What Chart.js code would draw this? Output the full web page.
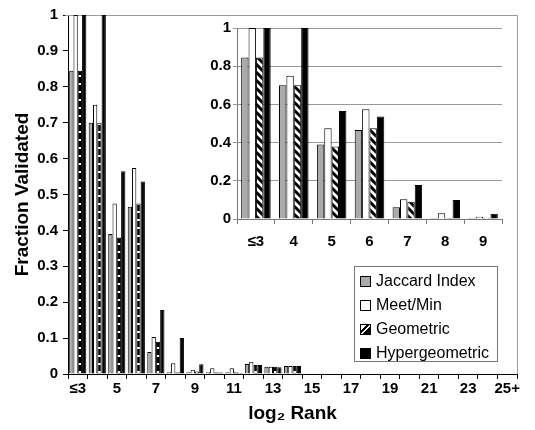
<!DOCTYPE html>
<html>
<head>
<meta charset="utf-8">
<script src="https://cdn.jsdelivr.net/npm/chart.js@4"></script>
<style>
  body { margin: 0; background: #fff; }
  #wrap { position: relative; width: 535px; height: 430px; }
  #wrap canvas { position: absolute; left: 0; top: 0; }
  #insetChart { pointer-events: none; }
  #legend {
    position: absolute; left: 354px; top: 266px; width: 142px; height: 94px;
    border: 1px solid #777; background: #fff;
    font: 16px "Liberation Sans", Arial, sans-serif; color: #000;
  }
  .item { position: absolute; left: 5px; height: 20px; line-height: 20px; white-space: nowrap; }
  .box { display: inline-block; width: 9px; height: 9px; border: 1px solid #000; margin-right: 5px; vertical-align: -1px; }
</style>
</head>
<body>
<div id="wrap">
  <canvas id="mainChart" width="535" height="430"></canvas>
  <canvas id="insetChart" width="535" height="430"></canvas>
  <div id="legend"></div>
</div>
<script>
// categories (log2 rank)
const rankLabels = ['≤3','4','5','6','7','8','9','10','11','12','13','14','15','16','17','18','19','20','21','22','23','24','25+'];
const seriesNames = ['Jaccard Index', 'Meet/Min', 'Geometric', 'Hypergeometric'];

// fraction validated per rank bin
const jaccard        = [0.845, 0.70, 0.39,  0.466, 0.061, 0.005, 0.005, 0.005, 0.005, 0.028, 0.020, 0.022, 0, 0, 0, 0, 0, 0, 0, 0, 0, 0, 0];
const meetMin        = [1.00,  0.75, 0.475, 0.574, 0.103, 0.030, 0.012, 0.016, 0.016, 0.034, 0.020, 0.022, 0, 0, 0, 0, 0, 0, 0, 0, 0, 0, 0];
const geometric      = [0.845, 0.70, 0.38,  0.475, 0.090, 0.005, 0.007, 0.005, 0.005, 0.025, 0.020, 0.022, 0, 0, 0, 0, 0, 0, 0, 0, 0, 0, 0];
const hypergeometric = [1.00,  1.00, 0.565, 0.536, 0.178, 0.100, 0.027, 0.004, 0.003, 0.025, 0.019, 0.022, 0, 0, 0, 0, 0, 0, 0, 0, 0, 0, 0];

// the inset zooms in on the first 7 bins
const insetCount = 7;

const FONT = '"Liberation Sans", Arial, sans-serif';
Chart.defaults.font.family = FONT;
Chart.defaults.color = '#000';
Chart.defaults.animation = false;

// 1, 0.9, ... 0 (no trailing zeros)
const fmt = v => String(Number(v.toFixed(1)));

// black with white dots (main chart geometric)
function dotPattern() {
    const c = document.createElement('canvas');
    c.width = 2; c.height = 8;
    const g = c.getContext('2d');
    g.fillStyle = '#000';
    g.fillRect(0, 0, 2, 8);
    g.fillStyle = '#fff';
    g.fillRect(0, 3, 2, 2);
    return g.createPattern(c, 'repeat');
}

// diagonal stripes (inset geometric)
function stripePattern() {
    const c = document.createElement('canvas');
    c.width = 8; c.height = 8;
    const g = c.getContext('2d');
    g.fillStyle = '#fff';
    g.fillRect(0, 0, 8, 8);
    g.strokeStyle = '#000';
    g.lineWidth = 3;
    for (let k = -8; k <= 8; k += 8) {
        g.beginPath();
        g.moveTo(k - 2, -2);
        g.lineTo(k + 10, 10);
        g.stroke();
    }
    return g.createPattern(c, 'repeat');
}

function makeDatasets(n, geoFill) {
    const fills = ['#aaaaaa', '#ffffff', geoFill, '#000000'];
    const values = [jaccard, meetMin, geometric, hypergeometric];
    return seriesNames.map((name, i) => ({
        label: name,
        data: values[i].slice(0, n),
        backgroundColor: fills[i],
        borderColor: '#000',
        borderWidth: 1,
        borderSkipped: 'start'
    }));
}

// gray frame on top/right of the main plot area
const frame = {
    id: 'frame',
    beforeDatasetsDraw(chart) {
        const a = chart.chartArea, g = chart.ctx;
        g.save();
        g.strokeStyle = '#999';
        g.lineWidth = 1;
        g.beginPath();
        g.moveTo(a.left - 3, a.top + 0.5);
        g.lineTo(a.right + 0.5, a.top + 0.5);
        g.lineTo(a.right + 0.5, a.bottom);
        g.stroke();
        g.restore();
    }
};

new Chart(document.getElementById('mainChart'), {
    type: 'bar',
    data: { labels: rankLabels, datasets: makeDatasets(rankLabels.length, dotPattern()) },
    options: {
        responsive: false,
        devicePixelRatio: 1,
        categoryPercentage: 0.88,
        barPercentage: 1.0,
        layout: { padding: { left: 0, right: 18, top: 15, bottom: 0 } },
        plugins: { legend: { display: false }, tooltip: { enabled: false } },
        scales: {
            x: {
                afterFit: s => { s.height = 56; },
                grid: { offset: true, drawOnChartArea: false, tickLength: 5, color: '#000' },
                border: { color: '#000', width: 1 },
                ticks: {
                    autoSkip: false, maxRotation: 0, padding: 1,
                    font: { size: 15, weight: 'bold' },
                    callback: (v, i) => i % 2 === 0 ? rankLabels[i] : ''
                },
                title: { display: true, text: 'log₂ Rank', font: { size: 19, weight: 'bold' }, padding: { top: 0, bottom: 5 } }
            },
            y: {
                min: 0, max: 1,
                afterFit: s => { s.width = 68; },
                grid: { drawOnChartArea: false, tickLength: 5, color: '#000' },
                border: { color: '#000', width: 1 },
                ticks: { stepSize: 0.1, padding: 5, font: { size: 15, weight: 'bold' }, callback: fmt },
                title: { display: true, text: 'Fraction Validated', font: { size: 19, weight: 'bold' }, padding: { top: 11, bottom: 0 } }
            }
        }
    },
    plugins: [frame]
});

new Chart(document.getElementById('insetChart'), {
    type: 'bar',
    data: { labels: rankLabels.slice(0, insetCount), datasets: makeDatasets(insetCount, stripePattern()) },
    options: {
        responsive: false,
        devicePixelRatio: 1,
        categoryPercentage: 0.78,
        barPercentage: 1.0,
        layout: { padding: { left: 200, right: 33, top: 28, bottom: 170 } },
        plugins: { legend: { display: false }, tooltip: { enabled: false } },
        scales: {
            x: {
                afterFit: s => { s.height = 41; },
                grid: { offset: true, drawOnChartArea: false, tickLength: 5, color: '#777' },
                border: { color: '#777', width: 1 },
                ticks: { autoSkip: false, maxRotation: 0, padding: 9, font: { size: 15, weight: 'bold' } }
            },
            y: {
                min: 0, max: 1,
                afterFit: s => { s.width = 37; },
                grid: { color: '#999', tickLength: 4, drawTicks: true },
                border: { color: '#777', width: 1 },
                ticks: { stepSize: 0.2, padding: 2, font: { size: 15, weight: 'bold' }, callback: fmt }
            }
        }
    }
});

// legend built from the series names
const legendFills = [
    'background:#aaaaaa',
    'background:#ffffff',
    'background:linear-gradient(135deg,#fff 0 30%,#000 30% 45%,#fff 45% 60%,#000 60%)',
    'background:#000000'
];
const legendEl = document.getElementById('legend');
seriesNames.forEach((name, i) => {
    const row = document.createElement('div');
    row.className = 'item';
    row.style.top = (4 + i * 24) + 'px';
    row.innerHTML = `<span class="box" style="${legendFills[i]}"></span>${name}`;
    legendEl.appendChild(row);
});
</script>
</body>
</html>
